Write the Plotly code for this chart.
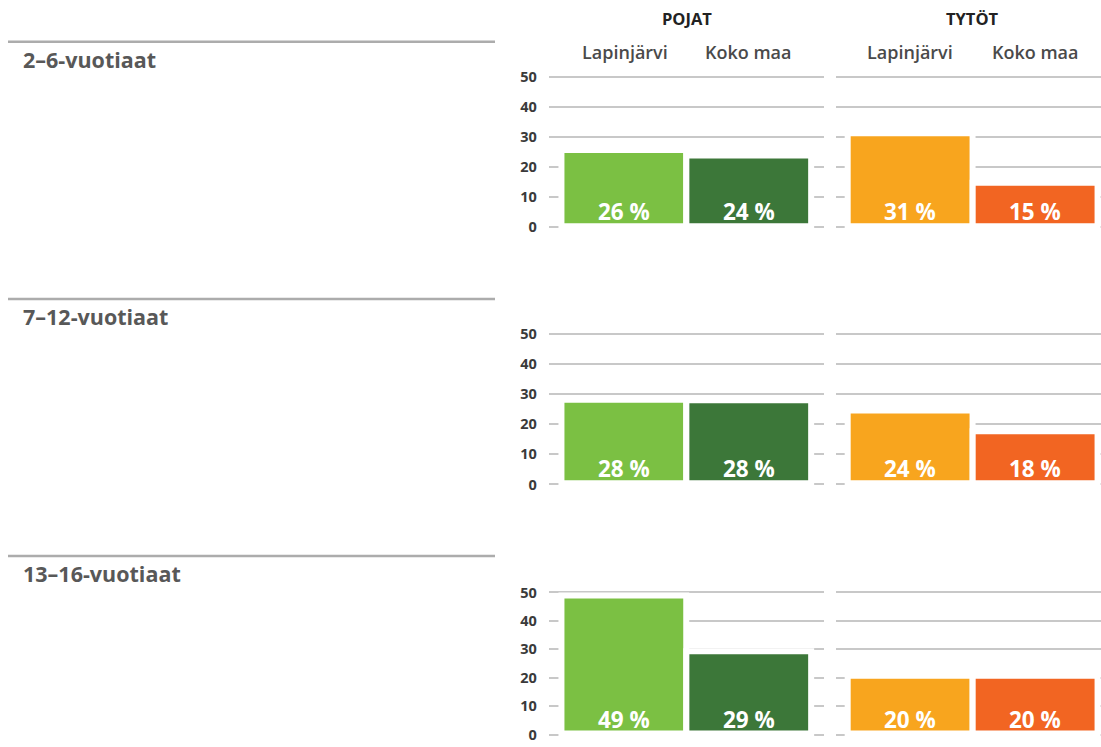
import plotly.graph_objects as go

W, H = 1101, 747

groups = ["2–6-vuotiaat", "7–12-vuotiaat", "13–16-vuotiaat"]
genders = ["POJAT", "TYTÖT"]
places = ["Lapinjärvi", "Koko maa"]

# percentage labels printed in bars
boys_pct = [26, 28, 49]
boys_nat_pct = [24, 28, 29]
girls_pct = [31, 24, 20]
girls_nat_pct = [15, 18, 20]

# bar tops as drawn (incl. the white outline)
boys_bar = [25.7, 28.1, 48.9]
boys_nat_bar = [23.9, 28.0, 29.3]
girls_bar = [31.3, 24.6, 20.7]
girls_nat_bar = [14.8, 17.7, 20.7]
BAR_BASE = 0.4

col_light_green = "#7bc043"
col_dark_green = "#3c7739"
col_orange = "#f8a51e"
col_red = "#f26522"

yticks = [0, 10, 20, 30, 40, 50]

# page -> design vertical correction measured for the renderer
def dy(p):
    return (p - 8.0) / 0.9785

def px_x(p):
    return p / W

def px_y(p):
    return 1 - p / H

row_y0 = [dy(227.5), dy(483.5), 740.5]    # pixel of value 0
row_y50 = [dy(77.5), dy(333.5), dy(591)]  # pixel of value 50
sep_y = [dy(42.7), dy(298.7), dy(554.7)]
title_y = [dy(59.9), dy(315.9), dy(571.9)]
PAD = 1.0

col_dom = [(px_x(548.9), px_x(823.7)), (px_x(835.5), 1.0)]
col_range = [(-0.6, 1.6), (-0.597, 1.527)]

fig = go.Figure()
layout = {}
annotations = []
shapes = []

data = [
    [(boys_bar, boys_pct, col_light_green), (boys_nat_bar, boys_nat_pct, col_dark_green)],
    [(girls_bar, girls_pct, col_orange), (girls_nat_bar, girls_nat_pct, col_red)],
]

idx = 0
for r in range(3):
    k = (row_y0[r] - row_y50[r]) / 50.0
    ydom = [px_y(row_y0[r] + PAD * k), px_y(row_y50[r] - PAD * k)]
    for c in range(2):
        idx += 1
        xa = "x" if idx == 1 else f"x{idx}"
        ya = "y" if idx == 1 else f"y{idx}"
        xkey = "xaxis" if idx == 1 else f"xaxis{idx}"
        ykey = "yaxis" if idx == 1 else f"yaxis{idx}"
        vals = [data[c][0][0][r], data[c][1][0][r]]
        pcts = [data[c][0][1][r], data[c][1][1][r]]
        cols = [data[c][0][2], data[c][1][2]]
        fig.add_trace(go.Bar(
            x=[0, 1], y=[v - BAR_BASE for v in vals], base=BAR_BASE, width=0.999,
            marker=dict(color=cols, line=dict(color="white", width=6)),
            xaxis=xa, yaxis=ya, showlegend=False, hoverinfo="skip",
        ))
        for i in range(2):
            annotations.append(dict(
                x=i, y=0, xref=xa, yref=ya, yanchor="middle", yshift=15.5,
                text=f"{pcts[i]} %", showarrow=False,
                font=dict(family="Open Sans", size=22.5, color="white", weight="bold"),
            ))
        layout[xkey] = dict(
            domain=list(col_dom[c]), range=list(col_range[c]),
            showgrid=False, showticklabels=False, zeroline=False,
            fixedrange=True, anchor=ya,
        )
        layout[ykey] = dict(
            domain=ydom, range=[-PAD, 50 + PAD],
            tickvals=yticks, showgrid=True, gridcolor="#c8c8c8", gridwidth=2,
            zeroline=False, showticklabels=(c == 0), ticks="",
            ticklabelstandoff=11,
            tickfont=dict(family="Open Sans", size=14.5, color="#3a3a3a", weight="bold"),
            fixedrange=True, anchor=xa, layer="below traces",
        )

for r in range(3):
    shapes.append(dict(type="line", xref="paper", yref="paper",
                       x0=px_x(8), x1=px_x(495), y0=px_y(sep_y[r]), y1=px_y(sep_y[r]),
                       line=dict(color="#acacac", width=2.5)))
    annotations.append(dict(
        x=px_x(21), y=px_y(title_y[r]), xref="paper", yref="paper",
        xanchor="left", yanchor="middle", text=groups[r], showarrow=False,
        font=dict(family="Open Sans", size=21.5, color="#585858", weight="bold"),
    ))

header_x = [686.5, 972.6]
sub_x = [[624.7, 748.4], [910.0, 1035.2]]
for c in range(2):
    annotations.append(dict(
        x=px_x(header_x[c]), y=px_y(dy(19.3)), xref="paper", yref="paper",
        xanchor="center", yanchor="middle", text=genders[c], showarrow=False,
        font=dict(family="Open Sans", size=16.5, color="#222222", weight="bold"),
    ))
    for i in range(2):
        annotations.append(dict(
            x=px_x(sub_x[c][i]), y=px_y(dy(53.3)), xref="paper", yref="paper",
            xanchor="center", yanchor="middle", text=places[i], showarrow=False,
            font=dict(family="Open Sans", size=18, color="#4a4a4a", weight=600),
        ))

fig.update_layout(
    width=W, height=H,
    margin=dict(l=0, r=0, t=0, b=0, pad=0),
    paper_bgcolor="white", plot_bgcolor="white",
    annotations=annotations, shapes=shapes,
    barmode="overlay",
    **layout,
)

post = (
    "document.documentElement.style.margin='0';"
    "document.documentElement.style.padding='0';"
    "document.documentElement.style.height='747px';"
    "document.documentElement.style.overflow='hidden';"
    "document.body.style.margin='0';"
    "document.body.style.padding='0';"
    "document.body.style.height='747px';"
    "document.body.style.overflow='hidden';"
    "var d=document.querySelector('.plotly-graph-div');"
    "d.style.position='absolute';d.style.top='0px';d.style.left='0px';"
)

fig.write_html(
    "out.html",
    config={"displayModeBar": False, "staticPlot": True},
    post_script=post,
)
